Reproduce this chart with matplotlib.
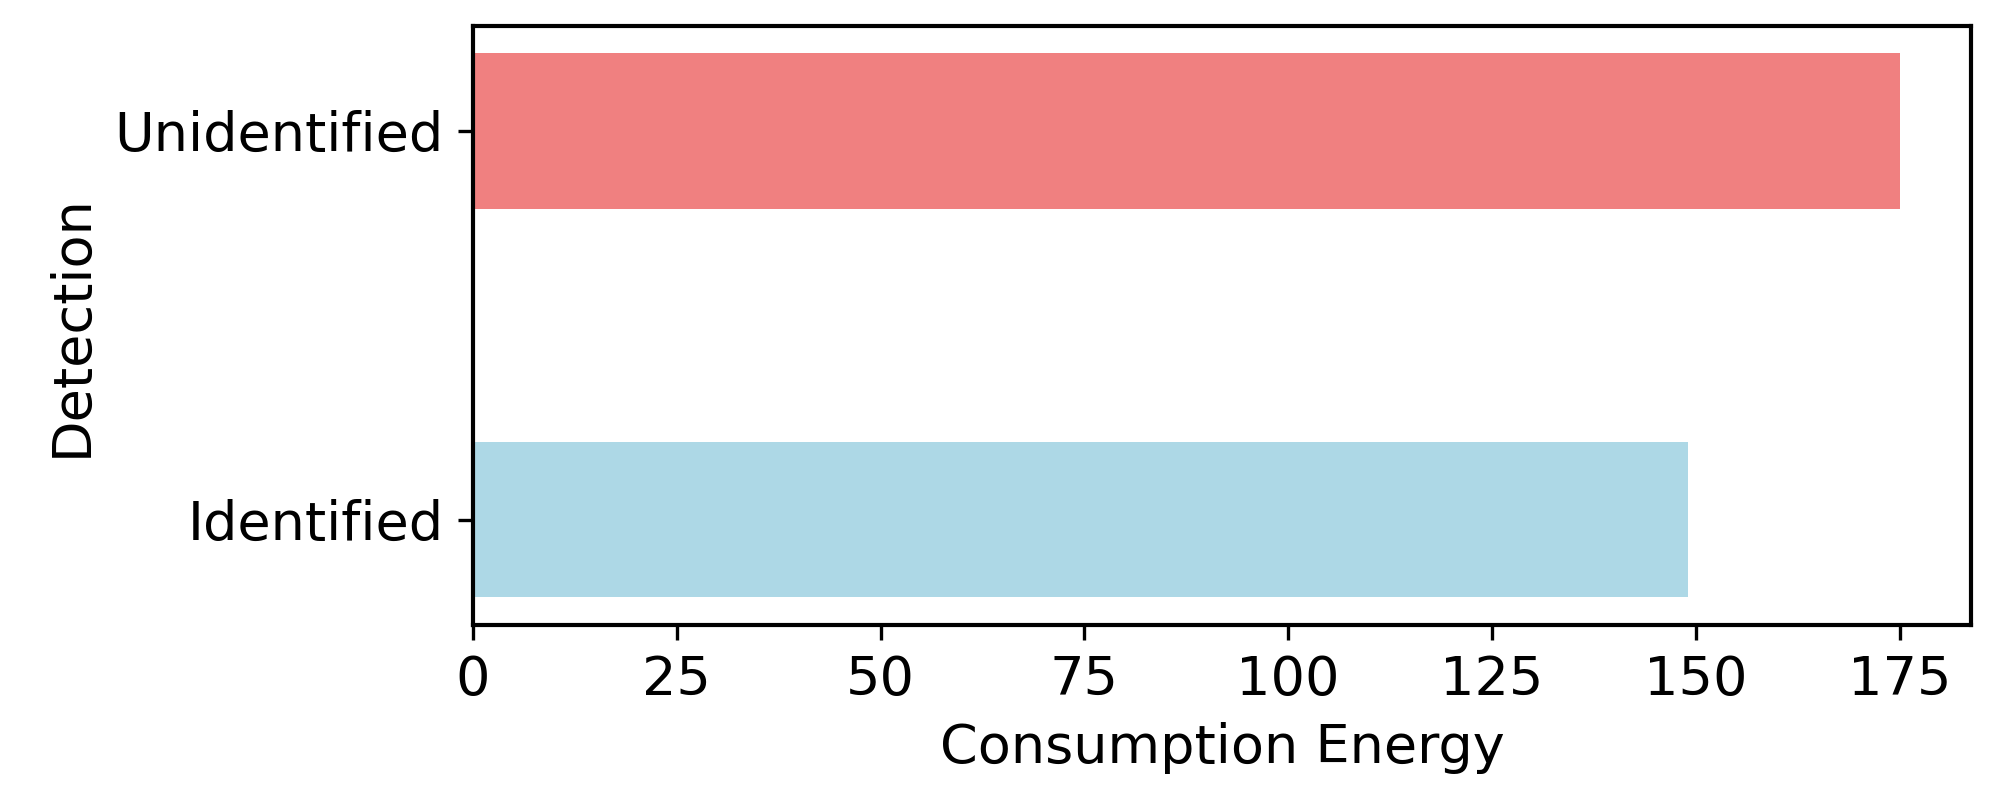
import matplotlib
matplotlib.use('Agg')
import matplotlib.pyplot as plt

categories = ['Identified', 'Unidentified']
energy = [149.0, 175.0]
colors = ['lightblue', 'lightcoral']

plt.rcParams['font.size'] = 13
plt.rcParams['axes.linewidth'] = 1.0

fig, ax = plt.subplots(figsize=(6.65, 2.7), dpi=300)
ax.barh(categories, energy, height=0.4, color=colors)
ax.set_xlabel('Consumption Energy')
ax.set_ylabel('Detection')
ax.set_xticks([0, 25, 50, 75, 100, 125, 150, 175])
fig.subplots_adjust(left=0.237, right=0.988, top=0.968, bottom=0.229)
fig.savefig('out.png', dpi=300)
